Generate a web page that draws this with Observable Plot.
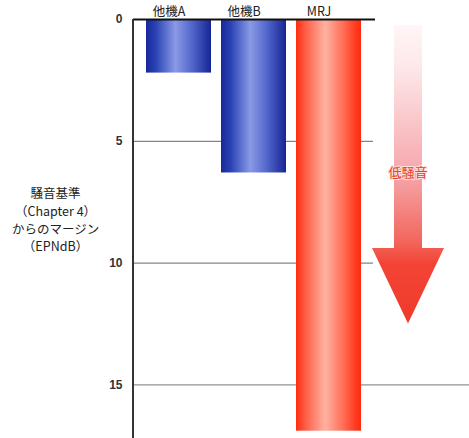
<!DOCTYPE html>
<html><head><meta charset="utf-8">
<script src="https://cdn.jsdelivr.net/npm/d3@7"></script>
<script src="https://cdn.jsdelivr.net/npm/@observablehq/plot@0.6"></script>
<style>
body{margin:0;background:#fff}
#chart{width:469px;height:438px}
</style>
</head><body><div id="chart"></div>
<script>
// ---- data ----
const categories = ["他機A", "他機B", "MRJ"];
const margins = [2.2, 6.3, 16.9];           // EPNdB margin from Chapter 4
const yTicks = [0, 5, 10, 15];
const gridValues = [5, 10];
const longGridValues = [15];
const axisLabelLines = ["騒音基準", "（Chapter 4）", "からのマージン", "（EPNdB）"];
const arrowLabel = "低騒音";
const arrowValues = [0.25, 9.4, 12.5];       // shaft start, head base, tip (EPNdB scale)
const arrowLabelValue = [6.3];

const data = categories.map((c, i) => ({category: c, margin: margins[i]}));
const jp = "'Noto Sans CJK JP', 'Liberation Sans', sans-serif";
const latin = "'Liberation Sans', 'Noto Sans CJK JP', sans-serif";

const chart = Plot.plot({
  width: 469, height: 438,
  marginLeft: 133, marginRight: 0, marginTop: 19, marginBottom: 0,
  style: {fontFamily: latin, background: "white", overflow: "visible"},
  x: {domain: categories, range: [133, 375], paddingInner: 0.13, paddingOuter: 0.16, label: null},
  y: {domain: [0, 17.2], reverse: true, label: null},
  marks: [
    Plot.ruleY(gridValues, {stroke: "#666", strokeWidth: 1, insetRight: 96}),
    Plot.ruleY(longGridValues, {stroke: "#777", strokeWidth: 1}),
    Plot.barY(data.filter(d => d.category !== "MRJ"), {x: "category", y: "margin", fill: "url(#blueGrad)"}),
    Plot.barY(data.filter(d => d.category === "MRJ"), {x: "category", y: "margin", fill: "url(#redGrad)"}),
    Plot.ruleY([0], {stroke: "#111", strokeWidth: 2, insetRight: 94}),
    Plot.axisX({anchor: "top", tickSize: 0, tickPadding: 4, dx: -10, fontSize: 12.5, fill: "#222", fontFamily: jp, label: null}),
    Plot.axisY(yTicks, {anchor: "left", tickSize: 0, tickPadding: 11, fontSize: 12, fill: "#333", fontWeight: "bold", label: null}),
    Plot.text([axisLabelLines.join("\n")], {frameAnchor: "left", dx: -78, dy: -10, fontSize: 12.5, lineHeight: 1.42, fill: "#222", fontFamily: jp, textAnchor: "middle"})
  ]
});

document.getElementById("chart").appendChild(chart);

// ---- decorations: gradients, axis line, arrow ----
const svg = d3.select(chart);
const ys = chart.scale("y"), xs = chart.scale("x");
const defs = svg.insert("defs", ":first-child");

function hGrad(id, stops) {
  const g = defs.append("linearGradient").attr("id", id).attr("x1", 0).attr("x2", 1).attr("y1", 0).attr("y2", 0);
  stops.forEach(([o, c]) => g.append("stop").attr("offset", o).attr("stop-color", c));
}
hGrad("blueGrad", [[0, "#18289a"], [0.15, "#2a42b4"], [0.45, "#8a9ae6"], [0.7, "#5468cc"], [1, "#162596"]]);
hGrad("redGrad", [[0, "#ff2c12"], [0.15, "#ff6048"], [0.45, "#ffb2a2"], [0.72, "#ff7058"], [0.92, "#ff3a1e"], [1, "#ff2a10"]]);

const yStart = ys.apply(arrowValues[0]), yBase = ys.apply(arrowValues[1]), yTip = ys.apply(arrowValues[2]);
const ag = defs.append("linearGradient").attr("id", "arrowGrad").attr("gradientUnits", "userSpaceOnUse")
  .attr("x1", 0).attr("x2", 0).attr("y1", yStart).attr("y2", yTip);
[[0, "#fff6f7"], [0.15, "#fde6e8"], [0.5, "#f6a6ab"], [0.72, "#f2685e"], [0.8, "#f24436"], [1, "#f03a2a"]]
  .forEach(([o, c]) => ag.append("stop").attr("offset", o).attr("stop-color", c));

// left axis line
const [r0, r1] = ys.range;
svg.append("line").attr("x1", 133).attr("x2", 133).attr("y1", Math.min(r0, r1)).attr("y2", 438)
  .attr("stroke", "#333").attr("stroke-width", 2);

// arrow
const xEnd = xs.apply("MRJ") + xs.bandwidth;
const cx = xEnd + 47, sw = 14, hw = 36;
const pts = [[cx - sw, yStart], [cx + sw, yStart], [cx + sw, yBase], [cx + hw, yBase], [cx, yTip], [cx - hw, yBase], [cx - sw, yBase]];
svg.append("path").attr("d", "M" + pts.map(p => p.join(",")).join("L") + "Z").attr("fill", "url(#arrowGrad)");
svg.append("text").attr("x", cx).attr("y", ys.apply(arrowLabelValue[0])).attr("dy", "0.35em")
  .attr("text-anchor", "middle").attr("font-size", 13).attr("font-family", jp)
  .attr("fill", "#e8402a").attr("stroke", "#fde0e0").attr("stroke-width", 2).attr("paint-order", "stroke")
  .text(arrowLabel);
</script>
</body></html>
